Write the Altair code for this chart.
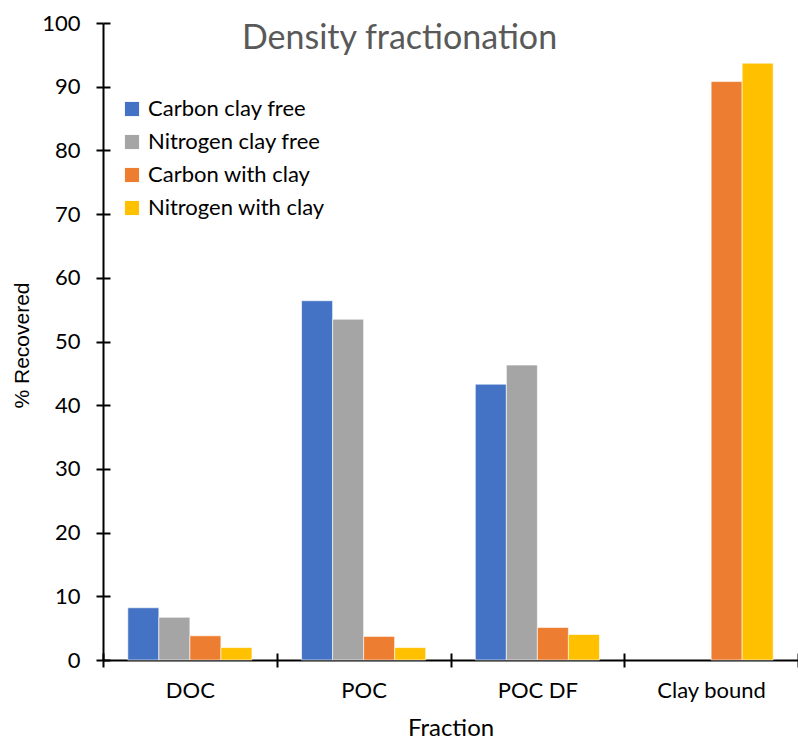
import altair as alt
import pandas as pd

# Fractions on the x axis and the four measured series
fractions = ["DOC", "POC", "POC DF", "Clay bound"]
series = ["Carbon clay free", "Nitrogen clay free", "Carbon with clay", "Nitrogen with clay"]

carbon_clay_free = [8.2, 56.4, 43.3, None]
nitrogen_clay_free = [6.7, 53.5, 46.3, None]
carbon_with_clay = [3.8, 3.7, 5.1, 90.8]
nitrogen_with_clay = [1.95, 1.95, 4.0, 93.7]

colors = ["#4472C4", "#A5A5A5", "#ED7D31", "#FFC000"]
y_ticks = list(range(0, 101, 10))

rows = []
for name, vals in zip(series, [carbon_clay_free, nitrogen_clay_free,
                               carbon_with_clay, nitrogen_with_clay]):
    for frac, v in zip(fractions, vals):
        if v is not None:
            rows.append({"fraction": frac, "series": name, "value": v})
df = pd.DataFrame(rows)

W, H = 695, 637
FONT = "Lato"

x_scale = alt.Scale(domain=fractions, paddingInner=0, paddingOuter=0)
y_scale = alt.Scale(domain=[0, 100], nice=False)
off_scale = alt.Scale(domain=series, paddingInner=0, paddingOuter=0.8)

bars = alt.Chart(df).mark_bar(stroke="white", strokeWidth=0.6).encode(
    x=alt.X("fraction:N", sort=fractions, scale=x_scale,
            axis=alt.Axis(title="Fraction", tickBand="extent", labelAngle=0,
                          labelFont=FONT, labelFontSize=22, labelColor="black",
                          labelPadding=13, titleFont=FONT, titleFontSize=24,
                          titleFontWeight="normal", titleColor="black",
                          titlePadding=15, domainColor="black", domainWidth=2,
                          tickColor="black", tickWidth=2, tickSize=7)),
    xOffset=alt.XOffset("series:N", sort=series, scale=off_scale),
    y=alt.Y("value:Q", scale=y_scale,
            axis=alt.Axis(title="% Recovered", values=y_ticks, grid=False,
                          labelFont=FONT, labelFontSize=22, labelColor="black",
                          labelPadding=16, titleFont="Liberation Sans",
                          titleFontSize=21, titleFontWeight="normal",
                          titleColor="black", titleX=-81, titleY=322,
                          titleAngle=270, titleAlign="center",
                          titleBaseline="middle", domainColor="black",
                          domainWidth=2, tickColor="black", tickWidth=2,
                          tickSize=7)),
    color=alt.Color("series:N", sort=series,
                    scale=alt.Scale(domain=series, range=colors),
                    legend=alt.Legend(orient="none", legendX=18, legendY=75,
                                      title=None, symbolType="square",
                                      symbolSize=200, symbolStrokeWidth=0,
                                      labelFont=FONT, labelFontSize=22,
                                      labelColor="black", labelOffset=5,
                                      labelLimit=400, rowPadding=11,
                                      padding=0)),
)

# Inner halves of the crossing tick marks on both axes
inner_ticks = alt.Chart(df).mark_bar(opacity=0).encode(
    x=alt.X("fraction:N", sort=fractions, scale=x_scale,
            axis=alt.Axis(orient="top", offset=-H, tickBand="extent",
                          labels=False, title=None, domain=False,
                          tickColor="black", tickWidth=2, tickSize=7)),
    xOffset=alt.XOffset("series:N", sort=series, scale=off_scale),
    y=alt.Y("value:Q", scale=y_scale,
            axis=alt.Axis(orient="right", offset=-W, values=y_ticks,
                          labels=False, title=None, domain=False, grid=False,
                          tickColor="black", tickWidth=2, tickSize=7)),
)

chart = alt.layer(bars, inner_ticks).resolve_scale(
    x="independent", y="independent"
).properties(
    width=W, height=H,
    background="white",
    autosize=alt.AutoSizeParams(type="none"),
    padding={"left": 103, "top": 23, "right": 0, "bottom": 80},
    title=alt.TitleParams(text="Density fractionation", font=FONT,
                          fontSize=34, fontWeight="normal", color="#595959",
                          anchor="middle", frame="group", orient="top",
                          baseline="alphabetic", offset=0, dx=-51, dy=71),
).configure_view(stroke=None)

chart.save("out.html", embed_options={"renderer": "svg", "actions": False})
